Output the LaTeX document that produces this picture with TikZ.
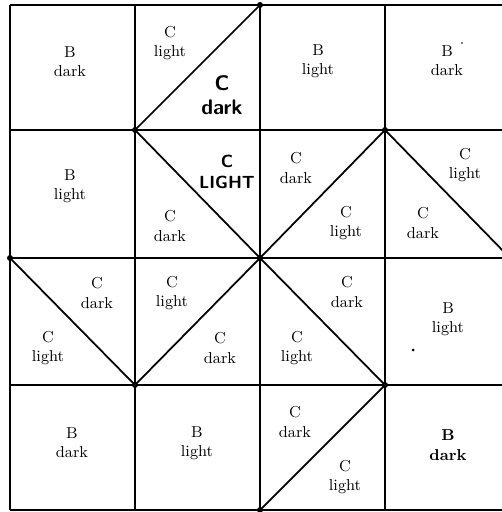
\documentclass[tikz,border=0pt]{standalone}
\begin{document}
\begin{tikzpicture}[x=0.2mm,y=-0.2mm,line width=1pt,
  lbl/.style={align=center,font=\small,inner sep=1pt},
  hand/.style={align=center,font=\sffamily\bfseries\large,inner sep=1pt}]
  \useasboundingbox (0,0) rectangle (501,512);
  % grid of the block
  \foreach \x in {10,135,260,385,510} {
    \draw (\x,5) -- (\x,510);
  }
  \foreach \y in {5,130,258,385,510} {
    \draw (10,\y) -- (510,\y);
  }
  % half-square triangles
  \draw (135,130) -- (260,5);
  \draw (135,130) -- (260,258);
  \draw (260,258) -- (385,130);
  \draw (385,130) -- (510,258);
  \draw (10,258) -- (135,385);
  \draw (135,385) -- (260,258);
  \draw (260,258) -- (385,385);
  \draw (260,510) -- (385,385);
  \foreach \p in {(135,130),(260,5),(260,258),(385,130),(10,258),(135,385),(385,385),(260,510)} {
    \fill \p circle (3);
  }
  % first row
  \node[lbl] (b11) at (70,62) {B\\dark};
  \node[lbl] (c12a) at (170,43) {C\\light};
  \node[hand] (c12b) at (222,95) {C\\dark};
  \node[lbl] (b13) at (318,61) {B\\light};
  \node[lbl] (b14) at (447,61) {B\\dark};
  % second row
  \node[lbl] (b21) at (70,186) {B\\light};
  \node[hand,font=\sffamily\bfseries] (c22a) at (227,172) {C\\LIGHT};
  \node[lbl] (c22b) at (170,226) {C\\dark};
  \node[lbl] (c23a) at (296,168) {C\\dark};
  \node[lbl] (c23b) at (346,223) {C\\light};
  \node[lbl] (c24a) at (465,165) {C\\light};
  \node[lbl] (c24b) at (423,223) {C\\dark};
  % third row
  \node[lbl] (c31a) at (97,293) {C\\dark};
  \node[lbl] (c31b) at (48,348) {C\\light};
  \node[lbl] (c32a) at (172,293) {C\\light};
  \node[lbl] (c32b) at (220,348) {C\\dark};
  \node[lbl] (c33a) at (347,292) {C\\dark};
  \node[lbl] (c33b) at (297,348) {C\\light};
  \node[lbl] (b34) at (448,319) {B\\light};
  % fourth row
  \node[lbl] (b41) at (72,443) {B\\dark};
  \node[lbl] (b42) at (197,443) {B\\light};
  \node[lbl] (c43a) at (295,422) {C\\dark};
  \node[lbl] (c43b) at (345,477) {C\\light};
  \node[lbl,font=\small\bfseries] (b44) at (448,445) {B\\dark};
  % specks
  \fill (413,350) circle (1.5);
  \fill (462,43) circle (0.8);
\end{tikzpicture}
\end{document}
